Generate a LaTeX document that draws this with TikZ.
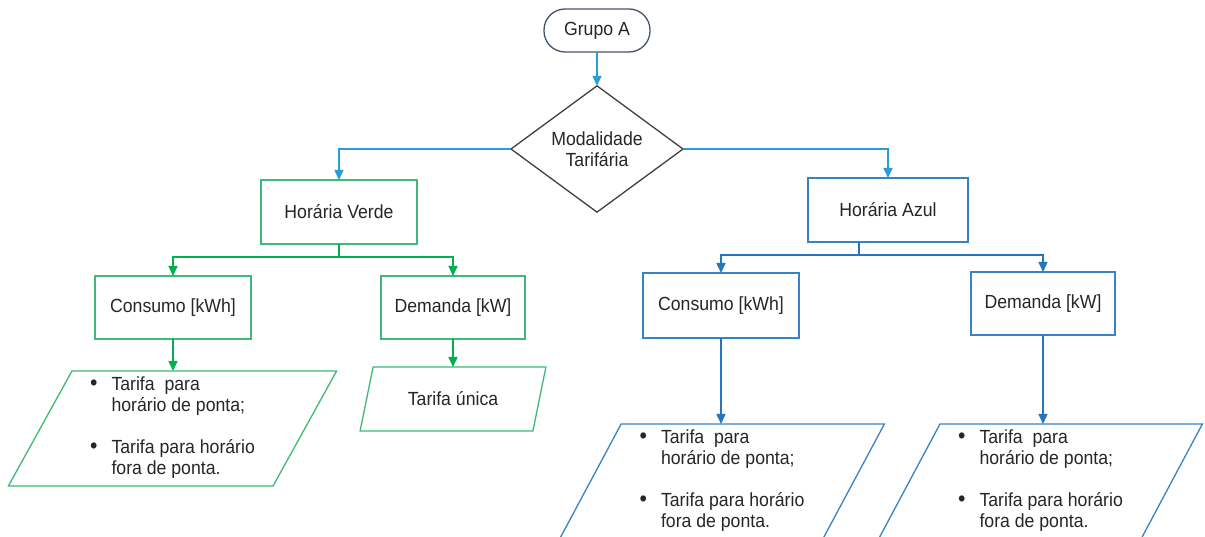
\documentclass[tikz,border=0pt]{standalone}
\usepackage{fontspec}
\setmainfont{Liberation Sans}[FakeStretch=0.93]
\usetikzlibrary{shapes.geometric,arrows.meta}
\definecolor{txt}{RGB}{38,38,38}
\definecolor{topblue}{RGB}{40,158,214}
\definecolor{gline}{RGB}{0,176,80}
\definecolor{gbox}{RGB}{64,184,120}
\definecolor{bline}{RGB}{38,118,190}
\definecolor{bbox}{RGB}{56,130,198}
\definecolor{dgray}{RGB}{64,64,64}
\definecolor{slate}{RGB}{68,84,106}
\tikzset{
  base/.style={inner sep=0pt, outer sep=0pt, line width=1.3pt, text=txt, align=center,
    font=\fontsize{19}{21}\selectfont},
  gbx/.style={base, draw=gbox, rectangle},
  bbx/.style={base, draw=bbox, rectangle},
  para/.style={base, trapezium, trapezium stretches=true},
  conn/.style={line width=1.5pt, -{Triangle[width=9pt,length=10pt]}},
  plain/.style={line width=1.5pt},
}
\newcommand{\bigbul}{\scalebox{1.2}{\textbullet}}
\newcommand{\bulletlist}{%
  \begin{tabular}{@{}l@{\hspace{14pt}}l@{}}
  \bigbul & Tarifa\ \ para\\
   & horário de ponta;\\[21pt]
  \bigbul & Tarifa para horário\\
   & fora de ponta.
  \end{tabular}}
\begin{document}
\begin{tikzpicture}[x=1pt,y=-1pt]
\useasboundingbox (0,0) rectangle (1205,537);
\clip (0,0) rectangle (1205,537);
\fill[white] (0,0) rectangle (1205,537);

% top
\node[base, draw=slate, rectangle, rounded corners=21pt, minimum width=106pt, minimum height=43pt] (grupo) at (597,30.5) {Grupo A};
\node[base, draw=dgray, diamond, minimum width=172pt, minimum height=122pt] (modal) at (597,149) {Modalidade\\Tarifária};

% level 2
\node[gbx, minimum width=156pt, minimum height=64pt] (hv) at (339,212) {Horária Verde};
\node[bbx, minimum width=160pt, minimum height=64pt] (ha) at (888,210) {Horária Azul};

% level 3
\node[gbx, minimum width=156pt, minimum height=63pt] (c1) at (173,307.5) {Consumo [kWh]};
\node[gbx, minimum width=144pt, minimum height=63pt] (d1) at (453,307.5) {Demanda [kW]};
\node[bbx, minimum width=156pt, minimum height=65pt] (c2) at (721,305.5) {Consumo [kWh]};
\node[bbx, minimum width=144pt, minimum height=63pt] (d2) at (1043,303.5) {Demanda [kW]};

% level 4
\node[para, draw=gbox, trapezium left angle=63.6, trapezium right angle=116.4,
      minimum width=329pt, minimum height=115pt] (p1) at (172.5,428.5) {\bulletlist};
\node[para, draw=gbox, trapezium left angle=62.5, trapezium right angle=117.5,
      minimum width=186pt, minimum height=64pt] (p2) at (453,399) {Tarifa única};
\node[para, draw=bbox, trapezium left angle=64.4, trapezium right angle=115.6,
      minimum width=326pt, minimum height=115pt] (p3) at (722,481.5) {\bulletlist};
\node[para, draw=bbox, trapezium left angle=64.4, trapezium right angle=115.6,
      minimum width=325pt, minimum height=115pt] (p4) at (1040.5,481.5) {\bulletlist};

% connectors
\draw[conn, topblue] (grupo.south) -- (modal.north);
\draw[conn, topblue] (modal.west) -| (hv.north);
\draw[conn, topblue] (modal.east) -| (ha.north);

\coordinate (gsplit) at (339,257);
\draw[plain, gline] (hv.south) -- (gsplit);
\draw[conn, gline] (gsplit) -| (c1.north);
\draw[conn, gline] (gsplit) -| (d1.north);
\draw[conn, gline] (c1.south) -- (c1.south |- p1.north);
\draw[conn, gline] (d1.south) -- (d1.south |- p2.north);

\coordinate (bsplit) at (859,255);
\draw[plain, bline] (ha.south -| bsplit) -- (bsplit);
\draw[conn, bline] (bsplit) -| (c2.north);
\draw[conn, bline] (bsplit) -| (d2.north);
\draw[conn, bline] (c2.south) -- (c2.south |- p3.north);
\draw[conn, bline] (d2.south) -- (d2.south |- p4.north);
\end{tikzpicture}
\end{document}
